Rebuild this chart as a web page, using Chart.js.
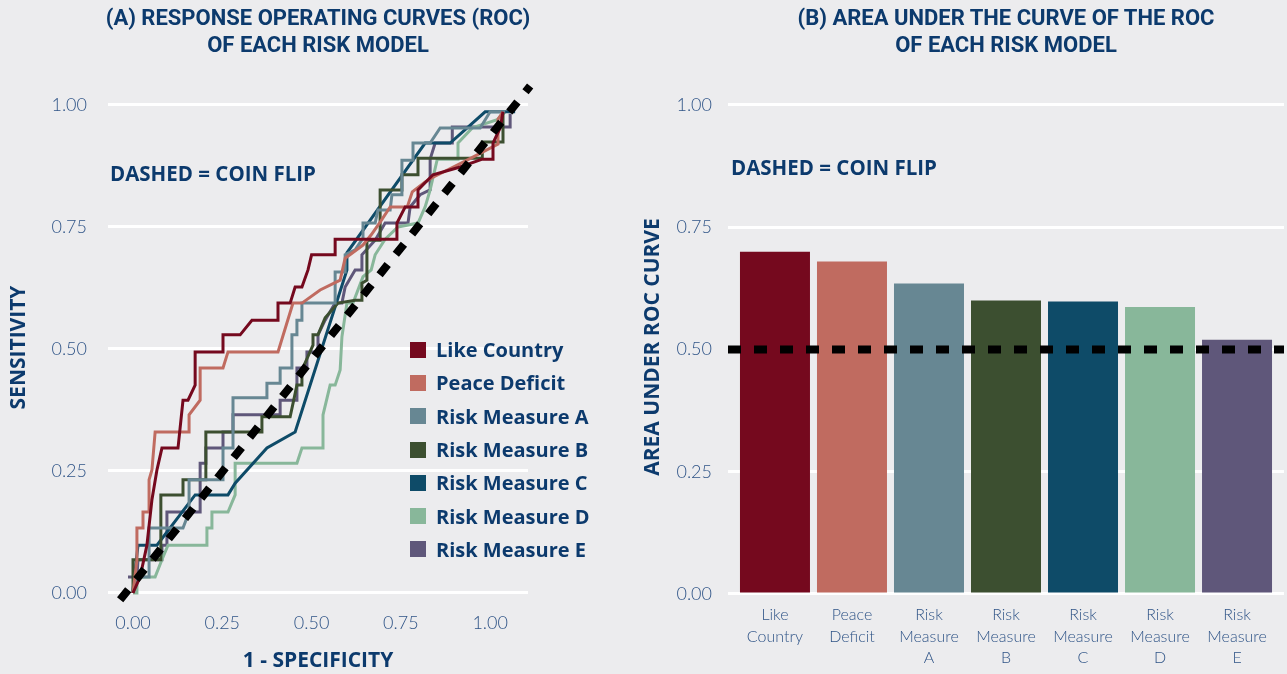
<!DOCTYPE html>
<html>
<head>
<meta charset="utf-8">
<script src="https://cdn.jsdelivr.net/npm/chart.js@4.4.1/dist/chart.umd.min.js"></script>
<style>
  html, body { margin: 0; padding: 0; background: #ececee; }
  #wrap { position: relative; width: 1287px; height: 674px; overflow: hidden; }
  #cvA { position: absolute; left: 0; top: 0; }
  #cvB { position: absolute; left: 640px; top: 0; }
  .titulo { position: absolute; top: 4px; width: 600px; text-align: center;
            font: 700 22px/27px Roboto, sans-serif; color: #0c3a6d; }
  .nota { position: absolute; font: 700 20.5px/24px "Open Sans", sans-serif; color: #0c3a6d; white-space: nowrap; }
  #legenda { position: absolute; left: 410px; top: 333px; }
  .linha { display: flex; align-items: center; height: 33.3px;
           font: 700 20px "Open Sans", sans-serif; color: #0c3a6d; white-space: nowrap; }
  .cor { width: 16px; height: 16px; margin-right: 10px; }
</style>
</head>
<body>
<div id="wrap">
  <canvas id="cvA" width="640" height="674"></canvas>
  <canvas id="cvB" width="647" height="674"></canvas>
  <div class="titulo" style="left:18px">(A) RESPONSE OPERATING CURVES (ROC)<br>OF EACH RISK MODEL</div>
  <div class="titulo" style="left:706px">(B) AREA UNDER THE CURVE OF THE ROC<br>OF EACH RISK MODEL</div>
  <div class="nota" style="left:110px; top:161px">DASHED = COIN FLIP</div>
  <div class="nota" style="left:731px; top:155px">DASHED = COIN FLIP</div>
  <div id="legenda"></div>
</div>
<script>
// nomes das series e cores
const modelos = ['Like Country', 'Peace Deficit', 'Risk Measure A', 'Risk Measure B',
                 'Risk Measure C', 'Risk Measure D', 'Risk Measure E'];
const cores   = ['#75091e', '#c06b60', '#678793', '#3c4f30', '#0e4b68', '#88b79a', '#5f577a'];

// curvas ROC: [1 - especificidade, sensibilidade]
const likeCountry = [[0,0],[0.02,0.033],[0.039,0.098],[0.053,0.191],[0.067,0.252],[0.081,0.297],[0.126,0.297],
  [0.14,0.395],[0.154,0.395],[0.174,0.426],[0.174,0.494],[0.252,0.494],[0.252,0.529],[0.3,0.529],[0.333,0.559],
  [0.406,0.559],[0.406,0.594],[0.44,0.594],[0.454,0.627],[0.473,0.627],[0.49,0.662],[0.5,0.693],[0.566,0.693],
  [0.566,0.725],[0.739,0.725],[0.739,0.758],[0.762,0.791],[0.798,0.791],[0.798,0.826],[0.84,0.857],[0.916,0.873],
  [0.978,0.889],[1.008,0.889],[1.008,0.922],[1.028,0.953],[1.036,0.986]];
const peaceDeficit = [[0,0],[0.011,0.068],[0.011,0.133],[0.028,0.133],[0.028,0.166],[0.045,0.166],[0.045,0.232],
  [0.053,0.252],[0.062,0.33],[0.157,0.33],[0.157,0.365],[0.188,0.395],[0.188,0.461],[0.252,0.461],[0.266,0.494],
  [0.406,0.494],[0.448,0.594],[0.473,0.594],[0.524,0.621],[0.58,0.641],[0.594,0.686],[0.644,0.713],[0.667,0.734],
  [0.692,0.76],[0.72,0.791],[0.768,0.791],[0.782,0.822],[0.818,0.842],[0.84,0.852],[0.93,0.885],[1.022,0.92],
  [1.022,0.971],[1.036,0.986]];
const riskA = [[0,0],[0.014,0.033],[0.045,0.033],[0.045,0.133],[0.14,0.133],[0.157,0.166],[0.157,0.232],
  [0.252,0.232],[0.252,0.297],[0.28,0.297],[0.28,0.4],[0.375,0.4],[0.375,0.43],[0.412,0.43],[0.412,0.461],
  [0.445,0.461],[0.445,0.529],[0.459,0.529],[0.459,0.559],[0.473,0.559],[0.473,0.594],[0.566,0.594],
  [0.566,0.658],[0.594,0.658],[0.594,0.693],[0.622,0.703],[0.644,0.727],[0.644,0.758],[0.678,0.758],
  [0.686,0.785],[0.72,0.785],[0.725,0.816],[0.753,0.816],[0.753,0.887],[0.784,0.887],[0.784,0.922],
  [0.832,0.922],[0.86,0.953],[0.972,0.953],[1.0,0.986],[1.042,0.986]];
const riskB = [[0,0],[0,0.068],[0.078,0.068],[0.078,0.201],[0.14,0.201],[0.14,0.232],[0.204,0.232],
  [0.204,0.33],[0.361,0.33],[0.361,0.361],[0.44,0.361],[0.459,0.426],[0.473,0.426],[0.473,0.457],
  [0.504,0.508],[0.504,0.529],[0.518,0.529],[0.538,0.564],[0.574,0.594],[0.622,0.6],[0.641,0.6],
  [0.641,0.635],[0.655,0.641],[0.655,0.723],[0.692,0.723],[0.692,0.826],[0.753,0.826],[0.753,0.857],
  [0.798,0.857],[0.798,0.891],[0.978,0.891],[0.978,0.924],[1.036,0.924],[1.036,0.986]];
const riskC = [[0,0],[0,0.006],[0.014,0.098],[0.067,0.098],[0.174,0.201],[0.266,0.201],[0.286,0.225],
  [0.375,0.297],[0.454,0.33],[0.599,0.662],[0.599,0.697],[0.818,0.922],[0.888,0.922],[0.986,0.986],[1.07,0.986]];
const riskD = [[0,0],[0.011,0],[0.011,0.033],[0.062,0.033],[0.081,0.068],[0.098,0.098],[0.207,0.098],
  [0.207,0.133],[0.221,0.133],[0.221,0.166],[0.266,0.166],[0.286,0.201],[0.286,0.266],[0.459,0.266],
  [0.473,0.297],[0.532,0.297],[0.532,0.365],[0.552,0.426],[0.566,0.426],[0.58,0.457],[0.585,0.525],
  [0.599,0.594],[0.616,0.594],[0.644,0.648],[0.667,0.662],[0.678,0.693],[0.706,0.725],[0.742,0.75],
  [0.798,0.758],[0.818,0.791],[0.832,0.826],[0.852,0.889],[0.91,0.889],[0.91,0.922],[0.95,0.953],
  [1.02,0.97],[1.042,0.986]];
const riskE = [[-0.014,0.033],[0.011,0.033],[0.014,0.068],[0.081,0.068],[0.081,0.098],[0.095,0.098],
  [0.095,0.166],[0.188,0.166],[0.188,0.266],[0.204,0.266],[0.204,0.297],[0.252,0.297],[0.252,0.33],
  [0.28,0.33],[0.28,0.365],[0.412,0.365],[0.412,0.395],[0.459,0.395],[0.459,0.461],[0.487,0.461],
  [0.487,0.494],[0.518,0.494],[0.518,0.529],[0.538,0.559],[0.566,0.594],[0.585,0.594],[0.594,0.627],
  [0.622,0.662],[0.641,0.662],[0.641,0.693],[0.678,0.723],[0.706,0.758],[0.77,0.758],[0.776,0.791],
  [0.804,0.816],[0.832,0.826],[0.832,0.889],[0.846,0.922],[0.894,0.922],[0.894,0.955],[1.056,0.955],
  [1.056,0.982]];
const curvas = [likeCountry, peaceDeficit, riskA, riskB, riskC, riskD, riskE];

// linha tracejada (moeda)
const moedaRoc = [[-0.036,-0.014],[1.112,1.039]];

// area sob a curva ROC
const auc = [0.70, 0.68, 0.635, 0.60, 0.598, 0.587, 0.52];
const moedaAuc = 0.5;

const ticksEixo = [0, 0.25, 0.5, 0.75, 1];

const azulTexto = '#0c3a6d';
const azulTick  = '#2f5487';
const fonteTick = { family: 'Lato, Roboto, sans-serif', size: 18, weight: '300' };
const fonteTitulo = { family: '"Open Sans", sans-serif', size: 21, weight: 'bold' };

const paraPontos = arr => arr.map(p => ({ x: p[0], y: p[1] }));

// grafico A - curvas ROC
new Chart(document.getElementById('cvA'), {
    type: 'scatter',
    data: {
        datasets: [
            {
                data: paraPontos(moedaRoc), showLine: true, pointRadius: 0,
                borderColor: '#000', borderWidth: 8, borderDash: [13, 13],
                order: -1, clip: false
            },
            ...curvas.map((c, i) => ({
                label: modelos[i], data: paraPontos(c), showLine: true, pointRadius: 0,
                borderColor: cores[i], borderWidth: 3, borderJoinStyle: 'miter', tension: 0
            }))
        ]
    },
    options: {
        responsive: false,
        animation: false,
        layout: { padding: { top: 90, right: 112, left: 0, bottom: 0 } },
        plugins: { legend: { display: false }, tooltip: { enabled: false } },
        scales: {
            x: {
                type: 'linear', min: -0.07, max: 1.106,
                grid: { display: false, drawTicks: false }, border: { display: false },
                afterBuildTicks: s => { s.ticks = ticksEixo.map(v => ({ value: v })); },
                afterFit: s => { s.height = 69; },
                ticks: { padding: 7, color: azulTick, font: fonteTick, callback: v => v.toFixed(2) },
                title: { display: true, text: '1 - SPECIFICITY', color: azulTexto, font: fonteTitulo, padding: 0 }
            },
            y: {
                type: 'linear', min: -0.0246, max: 1.0307,
                grid: { color: '#ffffff', lineWidth: 3, drawTicks: false }, border: { display: false },
                afterBuildTicks: s => { s.ticks = ticksEixo.map(v => ({ value: v })); },
                afterFit: s => { s.width = 108; },
                ticks: { padding: 21, color: azulTick, font: fonteTick, callback: v => v.toFixed(2) },
                title: { display: true, text: 'SENSITIVITY', color: azulTexto, font: fonteTitulo, padding: { top: 6 } }
            }
        }
    }
});

// grafico B - area sob a curva
new Chart(document.getElementById('cvB'), {
    type: 'bar',
    data: {
        datasets: [
            {
                type: 'line', data: [{ x: -0.61, y: moedaAuc }, { x: 6.61, y: moedaAuc }],
                borderColor: '#000', borderWidth: 8, borderDash: [13, 13], pointRadius: 0, order: 0
            },
            {
                type: 'bar', data: auc.map((v, i) => ({ x: i, y: v })),
                backgroundColor: cores, barPercentage: 0.909, categoryPercentage: 1, order: 1
            }
        ]
    },
    options: {
        responsive: false,
        animation: false,
        layout: { padding: { top: 98, right: 3, left: 0, bottom: 0 } },
        plugins: { legend: { display: false }, tooltip: { enabled: false } },
        scales: {
            x: {
                type: 'linear', min: -0.61, max: 6.61, offset: false,
                grid: { display: false, drawTicks: false }, border: { display: false },
                afterBuildTicks: s => { s.ticks = modelos.map((m, i) => ({ value: i })); },
                afterFit: s => { s.height = 78; },
                ticks: {
                    padding: 8, color: azulTick, autoSkip: false, maxRotation: 0,
                    font: { family: 'Lato, Roboto, sans-serif', size: 16, weight: '300', lineHeight: 1.35 },
                    callback: v => modelos[v] ? modelos[v].split(' ') : ''
                }
            },
            y: {
                type: 'linear', min: -0.0041, max: 1.0143,
                grid: { color: '#ffffff', lineWidth: 3, drawTicks: false }, border: { display: false },
                afterBuildTicks: s => { s.ticks = ticksEixo.map(v => ({ value: v })); },
                afterFit: s => { s.width = 88; },
                ticks: { padding: 16, color: azulTick, font: fonteTick, callback: v => v.toFixed(2) },
                title: { display: true, text: 'AREA UNDER ROC CURVE', color: azulTexto, font: fonteTitulo, padding: { top: 0 } }
            }
        }
    }
});

// legenda do grafico A
(function criarLegenda() {
    const legenda = document.getElementById('legenda');
    modelos.forEach((m, i) => {
        const linha = document.createElement('div');
        linha.className = 'linha';
        linha.innerHTML = `<span class="cor" style="background:${cores[i]}"></span>${m}`;
        legenda.appendChild(linha);
    });
})();
</script>
</body>
</html>
